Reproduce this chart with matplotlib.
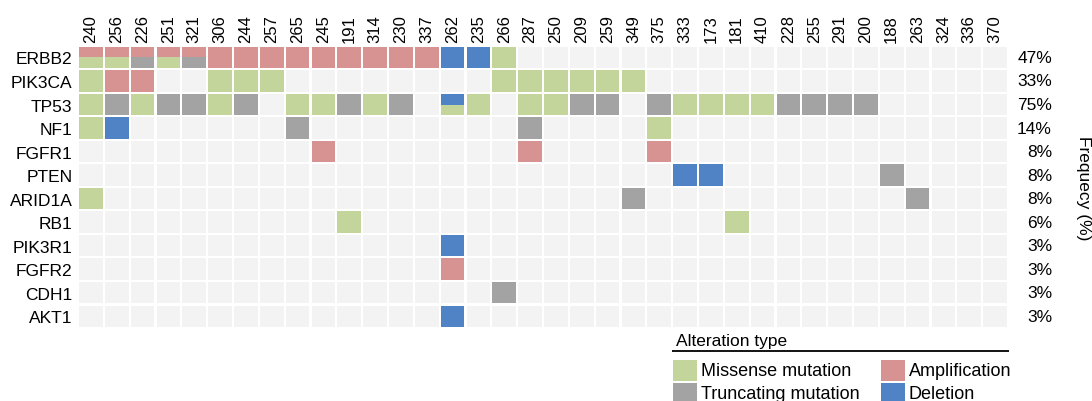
import matplotlib.pyplot as plt
from matplotlib.patches import Rectangle

plt.rcParams['font.family'] = ['Liberation Sans', 'DejaVu Sans']

# sample ids (columns) and genes (rows)
samples = ["240", "256", "226", "251", "321", "306", "244", "257", "265", "245",
           "191", "314", "230", "337", "262", "235", "266", "287", "250", "209",
           "259", "349", "375", "333", "173", "181", "410", "228", "255", "291",
           "200", "188", "263", "324", "336", "370"]
genes = ["ERBB2", "PIK3CA", "TP53", "NF1", "FGFR1", "PTEN", "ARID1A", "RB1",
         "PIK3R1", "FGFR2", "CDH1", "AKT1"]
freq = [47, 33, 75, 14, 8, 8, 8, 6, 3, 3, 3, 3]

# alterations per gene: sample -> code ("A/M" = top amplification, bottom missense)
erbb2 = {"240": "A/M", "256": "A/M", "226": "A/T", "251": "A/M", "321": "A/T",
         "306": "A", "244": "A", "257": "A", "265": "A", "245": "A", "191": "A",
         "314": "A", "230": "A", "337": "A", "262": "D", "235": "D", "266": "M"}
pik3ca = {"240": "M", "256": "A", "226": "A", "306": "M", "244": "M", "257": "M",
          "266": "M", "287": "M", "250": "M", "209": "M", "259": "M", "349": "M"}
tp53 = {"240": "M", "256": "T", "226": "M", "251": "T", "321": "T", "306": "M",
        "244": "T", "265": "M", "245": "M", "191": "T", "314": "M", "230": "T",
        "262": "D/M", "235": "M", "287": "M", "250": "M", "209": "T", "259": "T",
        "375": "T", "333": "M", "173": "M", "181": "M", "410": "M", "228": "T",
        "255": "T", "291": "T", "200": "T"}
nf1 = {"240": "M", "256": "D", "265": "T", "287": "T", "375": "M"}
fgfr1 = {"245": "A", "287": "A", "375": "A"}
pten = {"333": "D", "173": "D", "188": "T"}
arid1a = {"240": "M", "349": "T", "263": "T"}
rb1 = {"191": "M", "181": "M"}
pik3r1 = {"262": "D"}
fgfr2 = {"262": "A"}
cdh1 = {"266": "T"}
akt1 = {"262": "D"}
alterations = [erbb2, pik3ca, tp53, nf1, fgfr1, pten, arid1a, rb1,
               pik3r1, fgfr2, cdh1, akt1]

legend_keys = ["M", "T", "A", "D"]
legend_names = ["Missense mutation", "Truncating mutation", "Amplification", "Deletion"]
colors = {"M": "#c3d59b", "T": "#a3a3a3", "A": "#d69392", "D": "#4f83c6"}
bg = "#f3f3f3"

W, H = 1092, 402
fig = plt.figure(figsize=(W / 100, H / 100), dpi=100)
ax = fig.add_axes([78 / W, 1 - 329 / H, 930 / W, (329 - 46.7) / H])

gx, gy = 0.04, 0.045
for i, g in enumerate(genes):
    for j, s in enumerate(samples):
        code = alterations[i].get(s)
        if code is None:
            ax.add_patch(Rectangle((j + gx, i + gy), 1 - 2 * gx, 1 - 2 * gy, color=bg, lw=0))
        elif "/" in code:
            top, bot = code.split("/")
            ax.add_patch(Rectangle((j + gx, i + gy), 1 - 2 * gx, 0.5 - gy, color=colors[top], lw=0))
            ax.add_patch(Rectangle((j + gx, i + 0.5), 1 - 2 * gx, 0.5 - gy, color=colors[bot], lw=0))
        else:
            ax.add_patch(Rectangle((j + gx, i + gy), 1 - 2 * gx, 1 - 2 * gy, color=colors[code], lw=0))

ax.set_xlim(0, len(samples))
ax.set_ylim(len(genes), 0)
ax.set_xticks([j + 0.5 for j in range(len(samples))])
ax.set_xticklabels(samples, rotation=90, fontsize=12)
ax.set_yticks([i + 0.5 for i in range(len(genes))])
ax.set_yticklabels(genes, fontsize=12.5)
ax.tick_params(axis='x', top=True, labeltop=True, bottom=False, labelbottom=False, length=0, pad=3)
ax.tick_params(axis='y', length=0, pad=4)
for sp in ax.spines.values():
    sp.set_visible(False)

# frequencies on the right
for i, f in enumerate(freq):
    ax.text((1052 - 78) / 930, i + 0.5, f"{f}%", transform=ax.get_yaxis_transform(),
            ha='right', va='center', fontsize=12.5)
fig.text(1083 / W, 1 - 188 / H, "Frequecy (%)", rotation=-90, ha='center', va='center', fontsize=12.5)

# legend (pixel units inside its own axes)
lax = fig.add_axes([672 / W, 0, 337 / W, 1 - 333 / H])
lax.set_xlim(0, 337)
lax.set_ylim(69, 0)
lax.axis('off')
lax.text(4, 9, "Alteration type", ha='left', va='center', fontsize=12.5)
lax.plot([0, 337], [19, 19], color='black', lw=1.3)
for k, (key, name) in enumerate(zip(legend_keys, legend_names)):
    col, row = k // 2, k % 2
    x0 = 1 + col * 208
    y0 = 28 + row * 23
    lax.add_patch(Rectangle((x0, y0), 24, 21, color=colors[key], lw=0, clip_on=False))
    lax.text(x0 + 28, y0 + 10.5, name, ha='left', va='center', fontsize=13, clip_on=False)

fig.savefig("out.png", dpi=100)
